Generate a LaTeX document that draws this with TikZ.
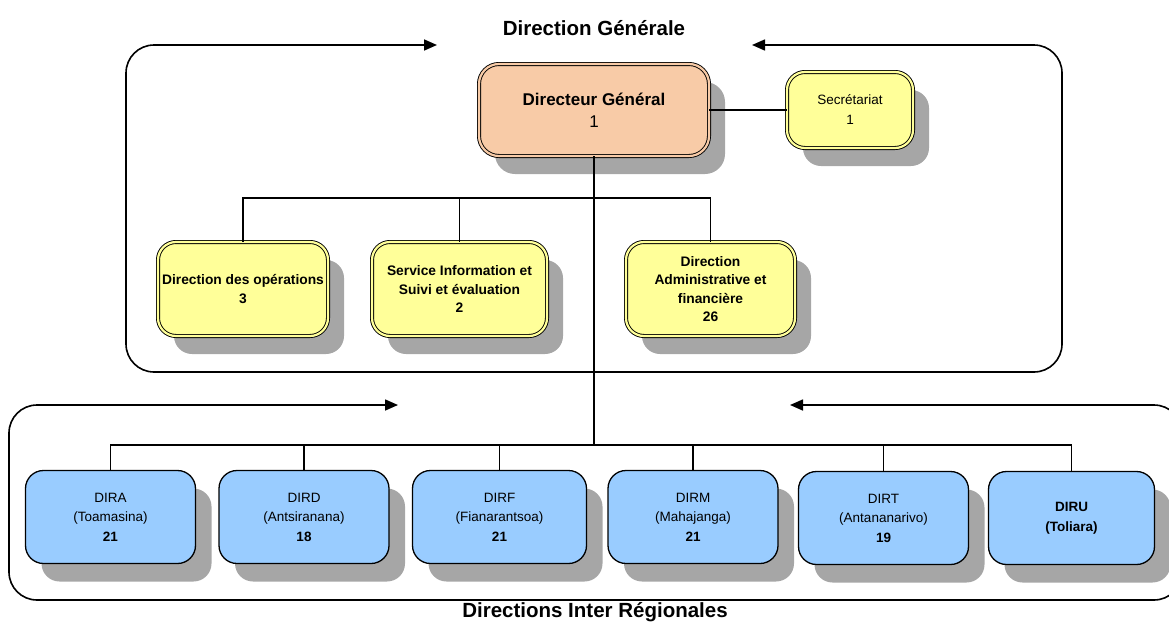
\documentclass[tikz,border=0pt]{standalone}
\usepackage{fontspec}
\setmainfont{Liberation Sans}
\usetikzlibrary{arrows.meta,shadows}
\definecolor{peach}{HTML}{F8CBA7}
\definecolor{lyellow}{HTML}{FFFF99}
\definecolor{lblue}{HTML}{99CCFF}
\definecolor{shadowgray}{HTML}{A6A6A6}
\begin{document}
\begin{tikzpicture}[x=1pt,y=-1pt,
  shad/.style={drop shadow={shadow xshift=16pt, shadow yshift=-18pt, fill=shadowgray, opacity=1}},
  dgbox/.style={draw, line width=0.9pt, double=peach, double distance=2.2pt, fill=peach,
    rounded corners=20pt, minimum width=230pt, minimum height=92pt, shad, align=center,
    inner sep=2pt, font=\fontsize{17}{22}\selectfont},
  ybox/.style={draw, line width=0.9pt, double=lyellow, double distance=2.2pt, fill=lyellow,
    rounded corners=18pt, minimum height=94pt, shad, align=center, inner sep=2pt,
    font=\bfseries\fontsize{13.8}{18.2}\selectfont},
  bbox/.style={draw, line width=1.3pt, fill=lblue, rounded corners=18pt,
    minimum width=170pt, minimum height=93pt, shad, align=center, inner sep=2pt,
    font=\fontsize{13.5}{19.5}\selectfont},
  titletext/.style={font=\bfseries\fontsize{20.5}{24}\selectfont, inner sep=0pt},
  frame/.style={line width=1.6pt, rounded corners=28pt,
    {Triangle[length=13pt,width=11pt]}-{Triangle[length=13pt,width=11pt]}},
  conn/.style={line width=1.3pt},
  trunk/.style={line width=2.2pt}]
\useasboundingbox (0,0) rectangle (1169,624);
\clip (0,0) rectangle (1169,624);
% titles
\node[titletext] (tg) at (594,28) {Direction Générale};
\node[titletext] (tr) at (595,612) {Directions Inter Régionales};
% frames
\coordinate (fa1) at (437,45);
\coordinate (fa2) at (752,45);
\draw[frame] (fa1) -- (126,45) -- (126,372) -- (1062,372) -- (1062,45) -- (fa2);
\coordinate (fb1) at (398,405);
\coordinate (fb2) at (790,405);
\draw[frame] (fb1) -- (9,405) -- (9,600) -- (1182,600) -- (1182,405) -- (fb2);
% nodes
\node[dgbox] (dg) at (594,110) {\textbf{Directeur Général}\\1};
\node[ybox, minimum width=126pt, minimum height=76pt, font=\fontsize{13.5}{20}\selectfont] (sec) at (850,110) {Secrétariat\\1};
\node[ybox, minimum width=170pt] (dop) at (243,289) {Direction des opérations\\3};
\node[ybox, minimum width=175pt] (sie) at (459.5,289) {Service Information et\\Suivi et évaluation\\2};
\node[ybox, minimum width=169pt] (daf) at (710.5,289) {Direction\\Administrative et\\financière\\26};
\node[bbox] (dira) at (110.5,517) {DIRA\\(Toamasina)\\\textbf{21}};
\node[bbox] (dird) at (304,517) {DIRD\\(Antsiranana)\\\textbf{18}};
\node[bbox, minimum width=174pt] (dirf) at (499.5,517) {DIRF\\(Fianarantsoa)\\\textbf{21}};
\node[bbox] (dirm) at (693,517) {DIRM\\(Mahajanga)\\\textbf{21}};
\node[bbox] (dirt) at (883.5,518) {DIRT\\(Antananarivo)\\\textbf{19}};
\node[bbox, minimum width=166pt] (diru) at (1071.5,518) {\textbf{DIRU}\\\textbf{(Toliara)}};
% connectors
\coordinate (j1) at (594,198);
\coordinate (j2) at (594,445);
\draw[conn] (dg.east) -- (sec.west);
\draw[conn] (j1) -| (dop.north);
\draw[conn] (j1) -| (sie.north);
\draw[conn] (j1) -| (daf.north);
\draw[conn] (j2) -| (dira.north);
\draw[conn] (j2) -| (dird.north);
\draw[conn] (j2) -| (dirf.north);
\draw[conn] (j2) -| (dirm.north);
\draw[conn] (j2) -| (dirt.north);
\draw[conn] (j2) -| (diru.north);
\draw[trunk] (dg.south) -- (j2);
\end{tikzpicture}
\end{document}
